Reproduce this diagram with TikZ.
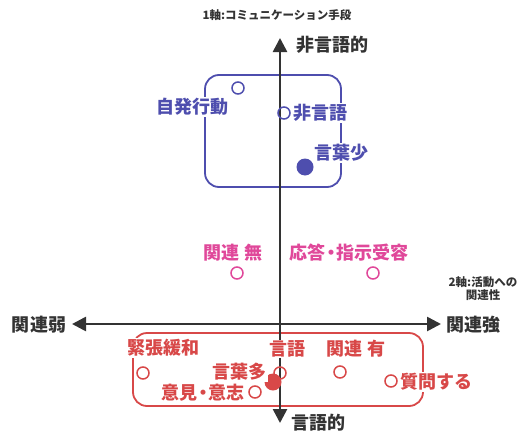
\documentclass[tikz,border=0pt]{standalone}
\usepackage{fontspec}
\setmainfont{Noto Sans CJK JP}
\usetikzlibrary{arrows.meta}
\definecolor{cblue}{HTML}{4E4EAE}
\definecolor{cpink}{HTML}{E0489A}
\definecolor{cred}{HTML}{D84848}
\definecolor{caxis}{HTML}{333333}
\newcommand{\mdot}{\kern-3.5pt・\kern-3.5pt}
\tikzset{
  lbl/.style={font=\fontsize{18}{20}\selectfont\bfseries, inner sep=1pt, fill=white},
  axlbl/.style={font=\fontsize{18}{20}\selectfont\bfseries, text=caxis, inner sep=1pt},
  small/.style={font=\fontsize{11.5}{13}\selectfont\bfseries, text=caxis, inner sep=1pt, align=center},
  grp/.style={line width=1.8pt, rounded corners=14pt},
  axis/.style={line width=2.6pt, draw=caxis, -{Triangle[length=14pt,width=14pt]}},
  opendot/.style={circle, draw, line width=1.5pt, minimum size=12pt, inner sep=0pt},
  fulldot/.style={circle, fill, minimum size=17pt, inner sep=0pt},
}
\begin{document}
\begin{tikzpicture}[x=1pt,y=-1pt]
\useasboundingbox (0,0) rectangle (521,436);
% group boxes
\draw[grp, cblue] (205,75) rectangle (341,187);
\draw[grp, cred] (133,333) rectangle (423,406);
% axes
\coordinate (ytop) at (280,38);
\coordinate (ybot) at (280,423);
\coordinate (xl) at (72,324);
\coordinate (xr) at (441,324);
\coordinate (o) at (280,324);
\draw[axis] (o) -- (ytop);
\draw[axis] (o) -- (ybot);
\draw[axis] (o) -- (xl);
\draw[axis] (o) -- (xr);
% axis labels
\node[small] (t1) at (277,15) {1軸:コミュニケーション手段};
\node[axlbl] (nv) at (332,45) {非言語的};
\node[axlbl] (v) at (318,423) {言語的};
\node[axlbl] (wk) at (39,325) {関連弱};
\node[axlbl] (st) at (473,325) {関連強};
\node[small] (t2) at (483,289) {2軸:活動への\\関連性};
% blue group
\node[opendot, cblue] (b1) at (238,88) {};
\node[opendot, cblue] (b2) at (284,113) {};
\node[fulldot, cblue] (b3) at (305,167) {};
\node[lbl, text=cblue] (jh) at (192,107) {自発行動};
\node[lbl, text=cblue, anchor=west] (hg) at (292,113) {非言語};
\node[lbl, text=cblue, anchor=west] (ks) at (313,153) {言葉少};
% pink
\node[lbl, text=cpink] (km) at (233,253) {関連 無};
\node[lbl, text=cpink] (os) at (349,253) {応答\mdot 指示受容};
\node[opendot, cpink] (p1) at (237,273) {};
\node[opendot, cpink] (p2) at (373,273) {};
% red group
\node[opendot, cred] (r1) at (143,373) {};
\node[opendot, cred] (r2) at (280,373) {};
\node[fulldot, cred] (r3) at (273,382) {};
\node[opendot, cred] (r4) at (340,372) {};
\node[opendot, cred] (r5) at (391,381) {};
\node[opendot, cred] (r6) at (255,392) {};
\node[lbl, text=cred] (kk) at (163,348) {緊張緩和};
\node[lbl, text=cred] (gg) at (287,349) {言語};
\node[lbl, text=cred] (ky) at (356,349) {関連 有};
\node[lbl, text=cred, anchor=east] (ko) at (268,372) {言葉多};
\node[lbl, text=cred, anchor=east] (ik) at (246,393) {意見\mdot 意志};
\node[lbl, text=cred, anchor=west] (sm) at (399,382) {質問する};
\end{tikzpicture}
\end{document}
